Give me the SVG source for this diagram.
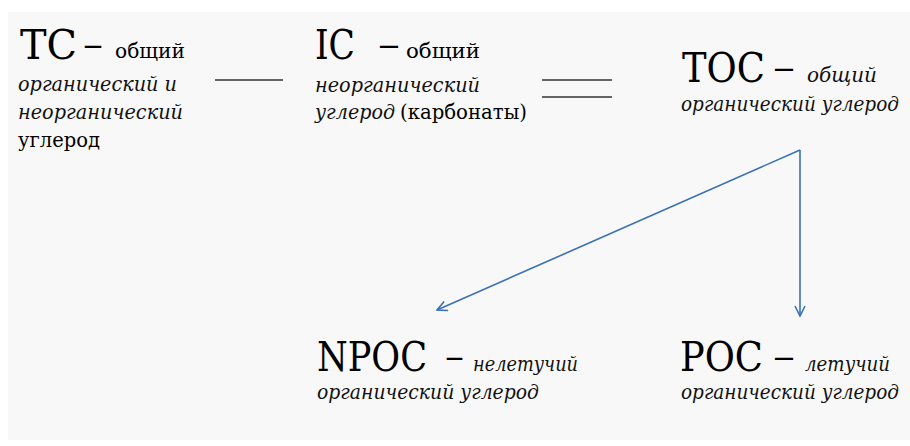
<svg xmlns="http://www.w3.org/2000/svg" width="910" height="446" viewBox="0 0 910 446">
<defs>
<style>
text{font-family:"DejaVu Serif","Liberation Serif",serif}
.big{font-size:41px;fill:#000}
.dash{font-size:36px;fill:#000}
.up{font-size:21px;fill:#000}
.it{font-size:21px;font-style:italic;fill:#111}
.lnk{stroke:#333;stroke-width:1.6;fill:none}
.arr{stroke:#3a70b4;stroke-width:1.6;fill:none}
</style>
<marker id="ah" viewBox="0 0 12 12" refX="11" refY="6" markerWidth="12" markerHeight="12" markerUnits="userSpaceOnUse" orient="auto">
<path d="M1,1 L11,6 L1,11" fill="none" stroke="#3a70b4" stroke-width="1.6"/>
</marker>
</defs>
<rect x="0" y="0" width="910" height="446" fill="#ffffff"/>
<rect x="8" y="12" width="902" height="428" fill="#f8f8f8"/>

<g id="node-tc">
<text class="big" x="20" y="59" textLength="57" lengthAdjust="spacingAndGlyphs">TC</text>
<text class="dash" x="83" y="56" textLength="20" lengthAdjust="spacingAndGlyphs">–</text>
<text class="up" x="115" y="58" textLength="70" lengthAdjust="spacingAndGlyphs">общий</text>
<text class="it" x="18" y="91" textLength="159" lengthAdjust="spacingAndGlyphs">органический и</text>
<text class="it" x="18" y="119" textLength="165" lengthAdjust="spacingAndGlyphs">неорганический</text>
<text class="up" x="18" y="147" textLength="82" lengthAdjust="spacingAndGlyphs">углерод</text>
</g>

<g id="node-ic">
<text class="big" x="315" y="59" textLength="40" lengthAdjust="spacingAndGlyphs">IC</text>
<text class="dash" x="378" y="56" textLength="22" lengthAdjust="spacingAndGlyphs">–</text>
<text class="up" x="406" y="58" textLength="74" lengthAdjust="spacingAndGlyphs">общий</text>
<text class="it" x="315" y="92" textLength="165" lengthAdjust="spacingAndGlyphs">неорганический</text>
<text class="it" x="315" y="119" textLength="80" lengthAdjust="spacingAndGlyphs">углерод</text>
<text class="up" x="400" y="119" textLength="127" lengthAdjust="spacingAndGlyphs">(карбонаты)</text>
</g>

<g id="node-toc">
<text class="big" x="682" y="82" textLength="83" lengthAdjust="spacingAndGlyphs">TOC</text>
<text class="dash" x="773" y="79" textLength="22" lengthAdjust="spacingAndGlyphs">–</text>
<text class="it" x="807" y="82" textLength="70" lengthAdjust="spacingAndGlyphs">общий</text>
<text class="it" x="681" y="111" textLength="218" lengthAdjust="spacingAndGlyphs">органический углерод</text>
</g>

<g id="node-npoc">
<text class="big" x="317" y="371" textLength="110" lengthAdjust="spacingAndGlyphs">NPOC</text>
<text class="dash" x="445" y="368" textLength="19" lengthAdjust="spacingAndGlyphs">–</text>
<text class="it" x="473" y="371" textLength="105" lengthAdjust="spacingAndGlyphs">нелетучий</text>
<text class="it" x="317" y="399" textLength="222" lengthAdjust="spacingAndGlyphs">органический углерод</text>
</g>

<g id="node-poc">
<text class="big" x="680" y="371" textLength="83" lengthAdjust="spacingAndGlyphs">POC</text>
<text class="dash" x="773" y="368" textLength="22" lengthAdjust="spacingAndGlyphs">–</text>
<text class="it" x="805" y="371" textLength="85" lengthAdjust="spacingAndGlyphs">летучий</text>
<text class="it" x="681" y="399" textLength="218" lengthAdjust="spacingAndGlyphs">органический углерод</text>
</g>

<g id="connectors">
<line class="lnk" x1="215" y1="80" x2="283" y2="80"/>
<line class="lnk" x1="542" y1="80" x2="612" y2="80"/>
<line class="lnk" x1="542" y1="97" x2="612" y2="97"/>
<path class="arr" d="M800,150 L437,310" marker-end="url(#ah)"/>
<path class="arr" d="M800,150 L800,316" marker-end="url(#ah)"/>
</g>
</svg>
